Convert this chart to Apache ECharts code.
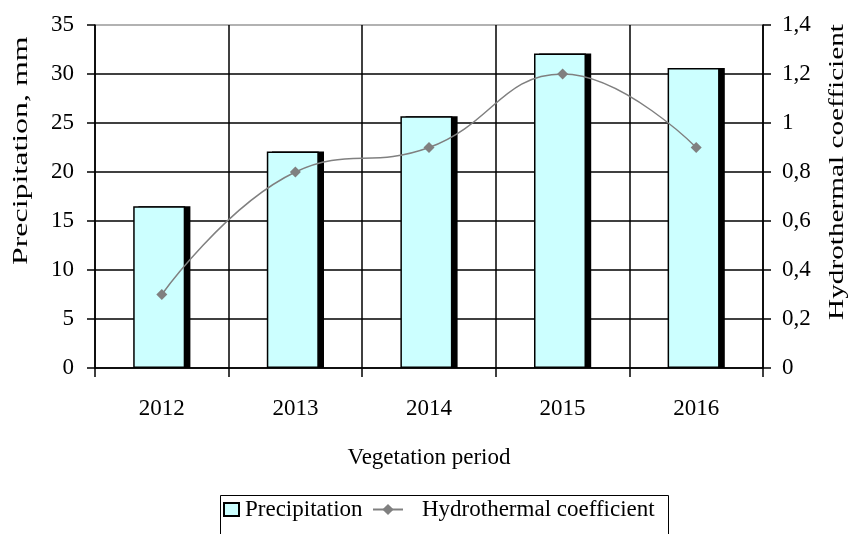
<!DOCTYPE html>
<html lang="en">
<head>
    <meta charset="UTF-8">
    <title>Precipitation and hydrothermal coefficient</title>
    <style>
        body {
            margin: 0;
            padding: 0;
            background-color: #fff;
        }
        #chart {
            width: 850px;
            height: 534px;
        }
    </style>
    <script src="https://cdn.jsdelivr.net/npm/echarts@6/dist/echarts.min.js"></script>
</head>
<body>
<div id="chart"></div>
<script>
	var years = ['2012', '2013', '2014', '2015', '2016'];
	var precipitation = [16.5, 22.1, 25.7, 32.1, 30.6];
	var htc = [0.3, 0.8, 0.9, 1.2, 0.9];

	var font = 'Liberation Serif, Times New Roman, serif';
	var chart = echarts.init(document.getElementById('chart'));

	var commaFormat = function (v) {
		return String(Math.round(v * 10) / 10).replace('.', ',');
	};

	var option = {
		animation: false,
		grid: {
			left: 95,
			right: 87,
			top: 25,
			bottom: 166
		},
		textStyle: {
			fontFamily: font
		},
		legend: [
			{
				data: ['Precipitation'],
				left: 223,
				top: 498,
				padding: 0,
				icon: 'rect',
				itemWidth: 15,
				itemHeight: 13,
				itemGap: 0,
				textStyle: {
					fontFamily: font,
					fontSize: 23,
					color: '#000',
					padding: [0, 0, 0, 1]
				}
			},
			{
				data: ['Hydrothermal coefficient'],
				left: 372,
				top: 498,
				padding: 0,
				itemWidth: 30,
				itemHeight: 14,
				textStyle: {
					fontFamily: font,
					fontSize: 23,
					color: '#000',
					padding: [0, 0, 0, 14]
				}
			}
		],
		graphic: [
			{
				type: 'rect',
				shape: {x: 220.5, y: 495.5, width: 448, height: 60},
				style: {fill: 'none', stroke: '#000', lineWidth: 1},
				silent: true
			},
			{
				type: 'text',
				x: 32,
				y: 265,
				rotation: Math.PI / 2,
				scaleX: 1.45,
				style: {
					text: 'Precipitation, mm',
					fontFamily: font,
					fontSize: 22,
					fill: '#000',
					textAlign: 'left',
					textVerticalAlign: 'bottom'
				}
			},
			{
				type: 'text',
				x: 848,
				y: 320,
				rotation: Math.PI / 2,
				scaleX: 1.33,
				style: {
					text: 'Hydrothermal coefficient',
					fontFamily: font,
					fontSize: 22,
					fill: '#000',
					textAlign: 'left',
					textVerticalAlign: 'bottom'
				}
			}
		],
		xAxis: {
			type: 'category',
			data: years,
			boundaryGap: true,
			name: 'Vegetation period',
			nameLocation: 'middle',
			nameGap: 78,
			nameTextStyle: {
				fontFamily: font,
				fontSize: 23,
				color: '#000',
				verticalAlign: 'top'
			},
			axisLine: {lineStyle: {color: '#000', width: 1.5}},
			axisTick: {
				show: true,
				length: 9,
				lineStyle: {color: '#000', width: 1.5}
			},
			axisLabel: {
				fontFamily: font,
				fontSize: 23,
				color: '#000',
				margin: 29
			},
			splitLine: {
				show: true,
				lineStyle: {color: '#000', width: 1.5}
			}
		},
		yAxis: [
			{
				type: 'value',
				min: 0,
				max: 35,
				interval: 5,
				axisLine: {show: true, lineStyle: {color: '#000', width: 1.5}},
				axisTick: {
					show: true,
					length: 8,
					lineStyle: {color: '#000', width: 1.5}
				},
				axisLabel: {
					fontFamily: font,
					fontSize: 23,
					color: '#000',
					margin: 21
				},
				splitLine: {
					show: true,
					lineStyle: {
						color: ['#000', '#000', '#000', '#000', '#000', '#000', '#000', '#999'],
						width: 1.5
					}
				}
			},
			{
				type: 'value',
				min: 0,
				max: 1.4,
				interval: 0.2,
				position: 'right',
				axisLine: {show: true, lineStyle: {color: '#000', width: 1.5}},
				axisTick: {
					show: true,
					length: 8,
					lineStyle: {color: '#000', width: 1.5}
				},
				axisLabel: {
					fontFamily: font,
					fontSize: 23,
					color: '#000',
					margin: 19,
					formatter: commaFormat
				},
				splitLine: {show: false}
			}
		],
		series: [
			{
				name: 'Precipitation',
				type: 'bar',
				data: precipitation,
				barWidth: 52,
				barGap: '-90%',
				itemStyle: {
					color: '#ccffff',
					borderColor: '#000',
					borderWidth: 1.5
				},
				z: 3
			},
			{
				// dark drop shadow on the right of each bar
				name: 'shadow',
				type: 'bar',
				data: precipitation,
				barWidth: 52,
				barGap: '-90%',
				silent: true,
				itemStyle: {color: '#000'},
				z: 2
			},
			{
				name: 'Hydrothermal coefficient',
				type: 'line',
				yAxisIndex: 1,
				data: htc,
				smooth: 0.45,
				symbol: 'diamond',
				symbolSize: 11,
				itemStyle: {color: '#808080'},
				lineStyle: {color: '#808080', width: 1.5},
				z: 4
			}
		]
	};
	chart.setOption(option);
</script>
</body>
</html>
